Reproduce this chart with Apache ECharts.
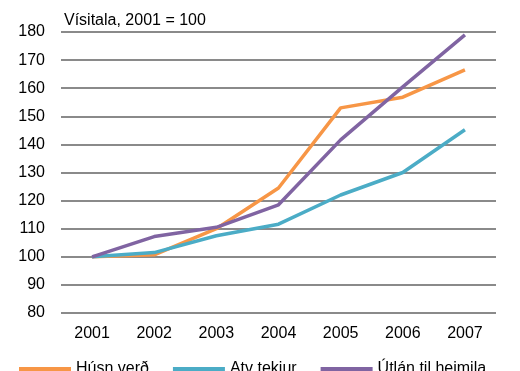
<!DOCTYPE html>
<html>
<head>
<meta charset="utf-8">
<script src="https://cdn.jsdelivr.net/npm/echarts@6/dist/echarts.min.js"></script>
<style>
  html, body { margin: 0; padding: 0; background: #fff; }
  #chart { width: 520px; height: 371px; }
</style>
</head>
<body>
<div id="chart"></div>
<script>
// gögn
const years = ['2001', '2002', '2003', '2004', '2005', '2006', '2007']
const husnVerd = [100, 100.7, 110, 124.5, 153, 156.8, 166.5]
const atvTekjur = [100, 101.5, 107.5, 111.6, 122, 130, 145.2]
const utlan = [100, 107.2, 110.5, 118.5, 141.6, 160.5, 179]
const yTicks = [80, 90, 100, 110, 120, 130, 140, 150, 160, 170, 180]

const font = 'Liberation Sans, Arial, sans-serif'
const chart = echarts.init(document.getElementById('chart'))

const line = (name, data, color) => ({
  name,
  type: 'line',
  data,
  symbol: 'none',
  lineStyle: { color, width: 3.5 },
  itemStyle: { color }
})

chart.setOption({
  animation: false,
  title: {
    text: 'Vísitala, 2001 = 100',
    left: 59,
    top: 8,
    textStyle: { fontFamily: font, fontSize: 16, fontWeight: 'normal', color: '#000' }
  },
  grid: { left: 61, right: 24, top: 32, bottom: 58 },
  legend: {
    bottom: -11,
    left: 14,
    itemWidth: 52,
    itemHeight: 4,
    itemGap: 24,
    icon: 'rect',
    textStyle: { fontFamily: font, fontSize: 16, color: '#000' },
    data: ['Húsn verð', 'Atv tekjur', 'Útlán til heimila']
  },
  xAxis: {
    type: 'category',
    data: years,
    boundaryGap: true,
    axisLine: { show: false },
    axisTick: { show: false },
    axisLabel: { fontFamily: font, fontSize: 16, color: '#000', margin: 13 }
  },
  yAxis: {
    type: 'value',
    min: yTicks[0],
    max: yTicks[yTicks.length - 1],
    interval: 10,
    axisLine: { show: false },
    axisTick: { show: false },
    axisLabel: { fontFamily: font, fontSize: 16, color: '#000', margin: 16 },
    splitLine: { lineStyle: { color: '#8a8a8a', width: 2 } }
  },
  series: [
    line('Húsn verð', husnVerd, '#F79646'),
    line('Atv tekjur', atvTekjur, '#4BACC6'),
    line('Útlán til heimila', utlan, '#8064A2')
  ]
})
</script>
</body>
</html>
